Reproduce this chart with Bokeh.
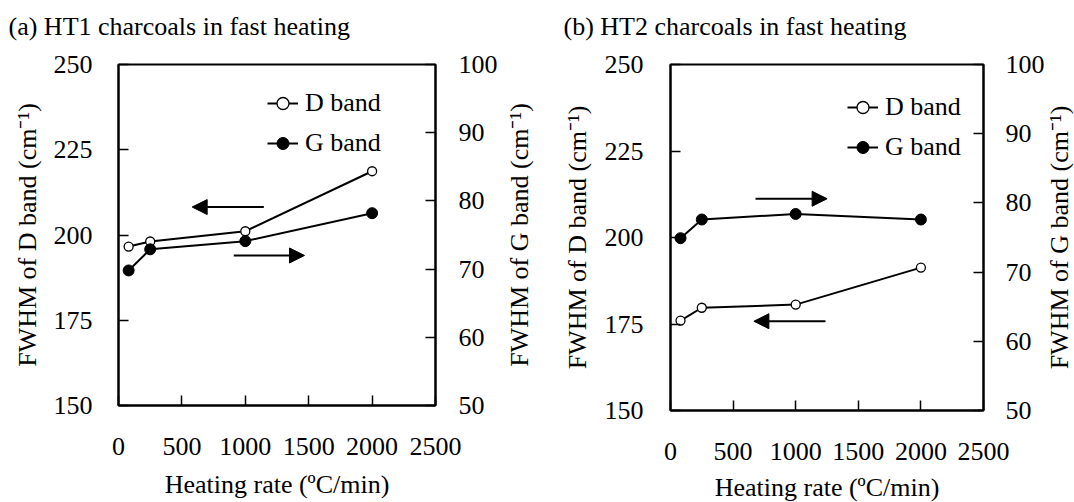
import math
from bokeh.plotting import figure
from bokeh.models import (Range1d, LinearAxis, Legend, LegendItem, Arrow,
                          NormalHead, FixedTicker, Label)
from bokeh.layouts import row
from bokeh.embed import file_html
from bokeh.resources import INLINE

# ---------------- data ----------------
rate = [80, 250, 1000, 2000]
ht1_d = [196.6, 198.1, 201.1, 218.7]
ht1_g = [69.8, 72.9, 74.1, 78.2]
ht2_d = [176.0, 179.7, 180.6, 191.3]
ht2_g = [74.9, 77.6, 78.4, 77.6]

x_ticks = [0, 500, 1000, 1500, 2000, 2500]
d_ticks = [150, 175, 200, 225, 250]
g_ticks = [50, 60, 70, 80, 90, 100]

titles = ["(a) HT1 charcoals in fast heating", "(b) HT2 charcoals in fast heating"]
x_label = "Heating rate (ºC/min)"
d_label = "FWHM of D band (cm⁻¹)"
g_label = "FWHM of G band (cm⁻¹)"
series_names = ["D band", "G band"]

FONT = "Liberation Serif"
FS = "26px"


def style_axis(ax, standoff, label_standoff):
    ax.axis_label_text_font = FONT
    ax.axis_label_text_font_size = FS
    ax.axis_label_text_font_style = "normal"
    ax.axis_label_text_color = "black"
    ax.major_label_text_font = FONT
    ax.major_label_text_font_size = FS
    ax.major_label_text_color = "black"
    ax.major_tick_in = 10
    ax.major_tick_out = 0
    ax.minor_tick_in = 0
    ax.minor_tick_out = 0
    ax.major_tick_line_color = "black"
    ax.major_tick_line_width = 1.5
    ax.axis_line_color = "black"
    ax.axis_line_width = 2
    ax.major_label_standoff = standoff
    ax.axis_label_standoff = label_standoff


def make_panel(title, d_vals, g_vals, cfg):
    p = figure(frame_width=cfg["fw"], frame_height=cfg["fh"],
               min_border_left=cfg["bl"], min_border_right=cfg["br"],
               min_border_top=cfg["bt"], min_border_bottom=cfg["bb"],
               x_range=Range1d(0, 2500), y_range=Range1d(150, 250),
               output_backend="svg", toolbar_location=None,
               background_fill_color="white", border_fill_color="white")
    p.title = None
    p.extra_y_ranges = {"g": Range1d(50, 100)}
    p.grid.visible = False
    p.outline_line_color = "black"
    p.outline_line_width = 2
    p.outline_line_alpha = 1

    p.xaxis.ticker = FixedTicker(ticks=x_ticks)
    p.xaxis.axis_label = x_label
    style_axis(p.xaxis[0], cfg["xs"], cfg["xls"])

    p.yaxis.ticker = FixedTicker(ticks=d_ticks)
    p.yaxis.axis_label = d_label
    style_axis(p.yaxis[0], cfg["ys"], cfg["yls"])

    ax2 = LinearAxis(y_range_name="g", ticker=FixedTicker(ticks=g_ticks))
    style_axis(ax2, cfg["rs"], 0)
    p.add_layout(ax2, "right")

    # panel title, above the frame
    p.add_layout(Label(x=cfg["tx"], y=cfg["ty"], x_units="screen",
                       y_units="screen", text=title, text_align="left",
                       text_baseline="alphabetic", text_font=FONT,
                       text_font_size=FS, text_color="black"), "above")

    # right axis title, reading bottom-to-top like the left one
    p.add_layout(Label(x=cfg["rlx"], y=cfg["fh"] / 2, x_units="screen",
                       y_units="screen", text=g_label, angle=math.pi / 2,
                       text_align="center", text_baseline="alphabetic",
                       text_font=FONT, text_font_size=FS, text_color="black"),
                 "right")

    dl = p.line(rate, d_vals, line_color="black", line_width=2)
    ds = p.scatter(rate, d_vals, marker="circle", size=9, fill_color="white",
                   line_color="black", line_width=1.3)
    gl = p.line(rate, g_vals, line_color="black", line_width=2, y_range_name="g")
    gs = p.scatter(rate, g_vals, marker="circle", size=11, fill_color="black",
                   line_color="black", y_range_name="g")

    for (xs, xe, yy) in cfg["arrows"]:
        p.add_layout(Arrow(x_start=xs, y_start=yy, x_end=xe, y_end=yy,
                           line_color="black", line_width=2,
                           end=NormalHead(size=15, fill_color="black",
                                          line_color="black", line_width=1)))

    leg = Legend(items=[LegendItem(label=series_names[0], renderers=[dl, ds]),
                        LegendItem(label=series_names[1], renderers=[gl, gs])],
                 location=cfg["leg"], padding=0, margin=0,
                 border_line_alpha=0, background_fill_alpha=0,
                 label_text_font=FONT, label_text_font_size=FS,
                 label_text_color="black", glyph_width=31, glyph_height=30,
                 label_height=30, label_standoff=7, spacing=10)
    p.add_layout(leg)
    return p


cfg1 = dict(fw=317, fh=341, bl=118, br=100, bt=64, bb=97, tx=-110, ty=38,
            xs=32, xls=12, ys=26, yls=9, rs=23, rlx=19.4,
            arrows=[(1146, 581, 208.2), (909, 1467, 194.0)],
            leg=(149, 247))
cfg2 = dict(fw=313, fh=346, bl=135, br=91, bt=64, bb=92, tx=-107, ty=38,
            xs=32, xls=10, ys=27, yls=10, rs=22, rlx=12,
            arrows=[(679, 1251, 211.2), (1238, 666, 175.8)],
            leg=(177, 248))

p1 = make_panel(titles[0], ht1_d, ht1_g, cfg1)
p2 = make_panel(titles[1], ht2_d, ht2_g, cfg2)

layout = row(p1, p2)
open("out.html", "w").write(file_html(layout, INLINE))
